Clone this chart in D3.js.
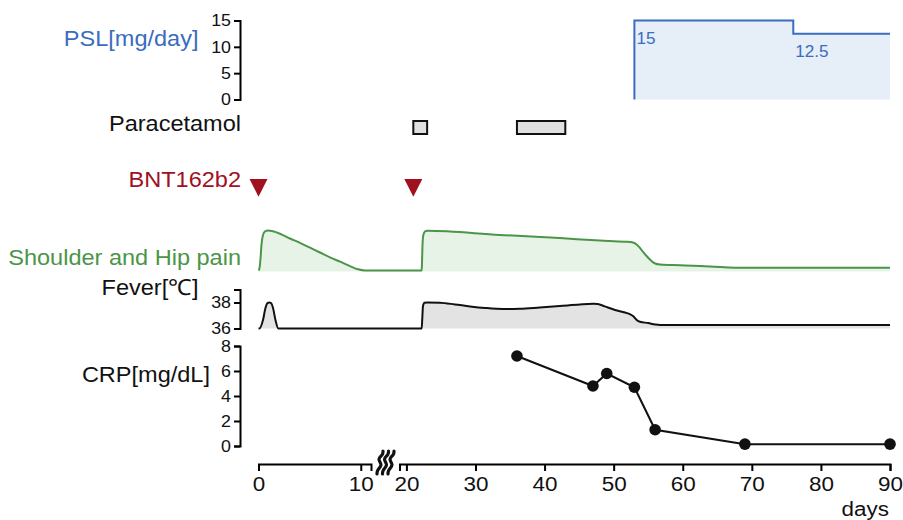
<!DOCTYPE html>
<html>
<head>
<meta charset="utf-8">
<script src="https://cdn.jsdelivr.net/npm/d3@7"></script>
<style>
  body { margin: 0; background: #fff; }
  svg { display: block; font-family: "Liberation Sans", Arial, sans-serif; }
</style>
</head>
<body>
<div id="chart"></div>
<script>
// ---- data ----
const pslDays = [53, 76, 90];
const pslDose = [15, 12.5, 12.5];
const pslLabels = ["15", "12.5"];

const paraStart = [21, 36];
const paraEnd = [23, 43];

const vaccineDays = [0, 21];

const painDays = [0, 0.1, 0.2, 0.29, 0.44, 0.64, 0.93, 1.42, 2.1, 3.08, 4.06, 5.04, 6.01, 6.99, 7.97, 8.95, 9.73, 10.4,
  22.21, 22.26, 22.33, 22.45, 22.7, 23.03, 33.5, 42.2, 48.0, 51.6, 52.8, 53.4, 53.96, 54.7, 55.4, 56.0, 56.7, 59.6, 62.5, 65.4, 67.6, 90];
const painLevel = [0, 0.06, 0.31, 0.64, 0.89, 0.98, 1.0, 0.98, 0.92, 0.8, 0.69, 0.57, 0.45, 0.33, 0.22, 0.11, 0.03, 0,
  0, 0.21, 0.64, 0.89, 0.98, 0.995, 0.89, 0.81, 0.75, 0.72, 0.7, 0.64, 0.53, 0.375, 0.25, 0.175, 0.15, 0.13, 0.11, 0.085, 0.07, 0.07];

const feverDays = [0, 0.08, 0.44, 0.68, 0.88, 1.06, 1.22, 1.42, 1.66, 1.94,
  22.21, 22.3, 22.4, 22.62, 23.03, 24.86, 27.03, 29.2, 31.4, 34.0, 36.4, 39.3, 42.2, 45.1, 47.05, 47.7, 48.7, 50.2, 51.65, 52.4, 52.8, 53.4, 53.8, 55.0, 56.0, 56.7, 90];
const feverTemp = [36, 36, 36.65, 37.58, 37.96, 38.0, 37.96, 37.58, 36.65, 36,
  36, 36.8, 37.73, 37.98, 38.0, 37.98, 37.85, 37.7, 37.58, 37.5, 37.52, 37.62, 37.73, 37.85, 37.9, 37.88, 37.7, 37.42, 37.23, 37.09, 36.96, 36.62, 36.52, 36.42, 36.31, 36.27, 36.27];

const crpDays = [36, 47, 49, 53, 56, 69, 90];
const crpValues = [7.2, 4.8, 5.8, 4.7, 1.3, 0.15, 0.15];

const xTicksLeft = [0, 10];
const xTicksRight = [20, 30, 40, 50, 60, 70, 80, 90];
const pslTicks = [0, 5, 10, 15];
const feverTicks = [36, 38];
const crpTicks = [0, 2, 4, 6, 8];

// ---- layout ----
const width = 903, height = 520;
const blue = "#3a6cc0", green = "#4b9548", red = "#a0101f";
const font = "'Liberation Sans', Arial, sans-serif";

const svg = d3.select("#chart").append("svg")
  .attr("width", width)
  .attr("height", height);

// broken x axis: 0-11 and 19-90 share one polylinear scale
const x = d3.scaleLinear().domain([0, 11, 19, 90]).range([258.5, 371, 399.5, 890]);
const xLeft = d3.scaleLinear().domain([0, 11]).range([x(0), x(11)]);
const xRight = d3.scaleLinear().domain([19, 90]).range([x(19), x(90)]);

const yPsl = d3.scaleLinear().domain([0, 15]).range([99.5, 20.5]);
const yPain = d3.scaleLinear().domain([0, 1]).range([270.5, 230.5]);
const yFever = d3.scaleLinear().domain([36, 39]).range([328.5, 289.5]);
const yCrp = d3.scaleLinear().domain([0, 8]).range([446, 346]);
const axisX = 240;

function styleAxis(g, fs) {
  g.attr("font-size", fs).attr("font-family", font);
  g.select(".domain").attr("stroke-width", 2);
  g.selectAll(".tick line").attr("stroke-width", 2);
  g.selectAll(".tick text").attr("fill", "#111");
}

function yAxis(scale, ticks) {
  const g = svg.append("g").attr("transform", `translate(${axisX},0)`)
    .call(d3.axisLeft(scale).tickValues(ticks).tickFormat(d3.format("d"))
      .tickSize(6).tickSizeOuter(6).tickPadding(3));
  styleAxis(g, 16.5);
  g.selectAll(".tick text").each(function () {
    const t = d3.select(this);
    t.attr("transform", `translate(${t.attr("x")},0) scale(1.08,1)`).attr("x", null);
  });
  return g;
}

// row labels (slightly wide, like the original)
function label(txt, xr, yb, color, fs) {
  svg.append("text")
    .attr("transform", `translate(${xr},${yb}) scale(1.07,1)`)
    .attr("text-anchor", "end")
    .attr("font-size", fs || 22)
    .attr("fill", color)
    .text(txt);
}
label("PSL[mg/day]", 198.5, 45.7, blue);
label("Paracetamol", 241, 130.7, "#111");
label("BNT162b2", 241, 187.3, red);
label("Shoulder and Hip pain", 241, 265, green);
label("Fever[\u2103]", 198.5, 295, "#111");
label("CRP[mg/dL]", 210, 382.3, "#111");

// ---- PSL ----
const pslPts = pslDays.map((d, i) => [d, pslDose[i]]);
svg.append("path")
  .datum(pslPts)
  .attr("fill", "#e6eef8")
  .attr("d", d3.area().x(d => x(d[0])).y0(yPsl(0)).y1(d => yPsl(d[1])).curve(d3.curveStepAfter));
svg.append("path")
  .datum([[pslDays[0], 0]].concat(pslPts))
  .attr("fill", "none")
  .attr("stroke", blue)
  .attr("stroke-width", 2)
  .attr("d", d3.line().x(d => x(d[0])).y(d => yPsl(d[1])).curve(d3.curveStepAfter));
svg.selectAll(".psl-lab")
  .data(pslLabels)
  .join("text")
  .attr("transform", (d, i) => `translate(${x(pslDays[i]) + 2},${yPsl(pslDose[i]) + 23.5}) scale(1.07,1)`)
  .attr("font-size", 16)
  .attr("fill", blue)
  .text(d => d);

yAxis(yPsl, pslTicks);

// ---- paracetamol ----
svg.selectAll(".para")
  .data(paraStart)
  .join("rect")
  .attr("x", d => x(d))
  .attr("y", 121)
  .attr("width", (d, i) => x(paraEnd[i]) - x(d))
  .attr("height", 13)
  .attr("fill", "#e0e0e0")
  .attr("stroke", "#111")
  .attr("stroke-width", 2);

// ---- vaccine ----
svg.selectAll(".vac")
  .data(vaccineDays)
  .join("path")
  .attr("transform", d => `translate(${x(d)},179)`)
  .attr("d", "M-9,0L9,0L0,17.7Z")
  .attr("fill", red);

// ---- shoulder and hip pain ----
const painPts = painDays.map((d, i) => [d, painLevel[i]]);
svg.append("path")
  .datum(painPts)
  .attr("fill", "#e8f3e8")
  .attr("d", d3.area().x(d => x(d[0])).y0(yPain(0) + 1).y1(d => yPain(d[1])).curve(d3.curveMonotoneX));
svg.append("path")
  .datum(painPts)
  .attr("fill", "none")
  .attr("stroke", green)
  .attr("stroke-width", 2)
  .attr("d", d3.line().x(d => x(d[0])).y(d => yPain(d[1])).curve(d3.curveMonotoneX));

// ---- fever ----
const feverPts = feverDays.map((d, i) => [d, feverTemp[i]]);
svg.append("path")
  .datum(feverPts)
  .attr("fill", "#e3e3e3")
  .attr("d", d3.area().x(d => x(d[0])).y0(yFever(36)).y1(d => yFever(d[1])).curve(d3.curveMonotoneX));
svg.append("path")
  .datum(feverPts)
  .attr("fill", "none")
  .attr("stroke", "#111")
  .attr("stroke-width", 2)
  .attr("d", d3.line().x(d => x(d[0])).y(d => yFever(d[1])).curve(d3.curveMonotoneX));

yAxis(yFever, feverTicks);

// ---- CRP ----
const crpPts = crpDays.map((d, i) => [d, crpValues[i]]);
svg.append("path")
  .datum(crpPts)
  .attr("fill", "none")
  .attr("stroke", "#111")
  .attr("stroke-width", 2)
  .attr("d", d3.line().x(d => x(d[0])).y(d => yCrp(d[1])));
svg.selectAll(".crp")
  .data(crpPts)
  .join("circle")
  .attr("cx", d => x(d[0]))
  .attr("cy", d => yCrp(d[1]))
  .attr("r", 5.8)
  .attr("fill", "#111");

yAxis(yCrp, crpTicks);

// ---- x axis (broken) ----
const axisY = 464;
const gxL = svg.append("g").attr("transform", `translate(0,${axisY})`)
  .call(d3.axisBottom(xLeft).tickValues(xTicksLeft).tickSize(7).tickSizeOuter(7).tickPadding(5));
styleAxis(gxL, 21);
const gxR = svg.append("g").attr("transform", `translate(0,${axisY})`)
  .call(d3.axisBottom(xRight).tickValues(xTicksRight).tickSize(7).tickSizeOuter(7).tickPadding(5));
styleAxis(gxR, 21);
[gxL, gxR].forEach(g => g.selectAll(".tick text").attr("transform", "scale(1.07,1)"));

// break mark
const wave = d3.line().curve(d3.curveBasis);
[380, 385.5, 391].forEach(cx => {
  svg.append("path")
    .attr("d", wave([[cx + 3, 451], [cx + 3, 455], [cx - 3, 459], [cx + 3, 465], [cx - 3, 470], [cx - 3, 474]]))
    .attr("fill", "none")
    .attr("stroke", "#111")
    .attr("stroke-width", 3.2)
    .attr("stroke-linecap", "round");
});

svg.append("text")
  .attr("transform", `translate(889,516) scale(1.07,1)`)
  .attr("text-anchor", "end")
  .attr("font-size", 21)
  .attr("fill", "#111")
  .text("days");
</script>
</body>
</html>
